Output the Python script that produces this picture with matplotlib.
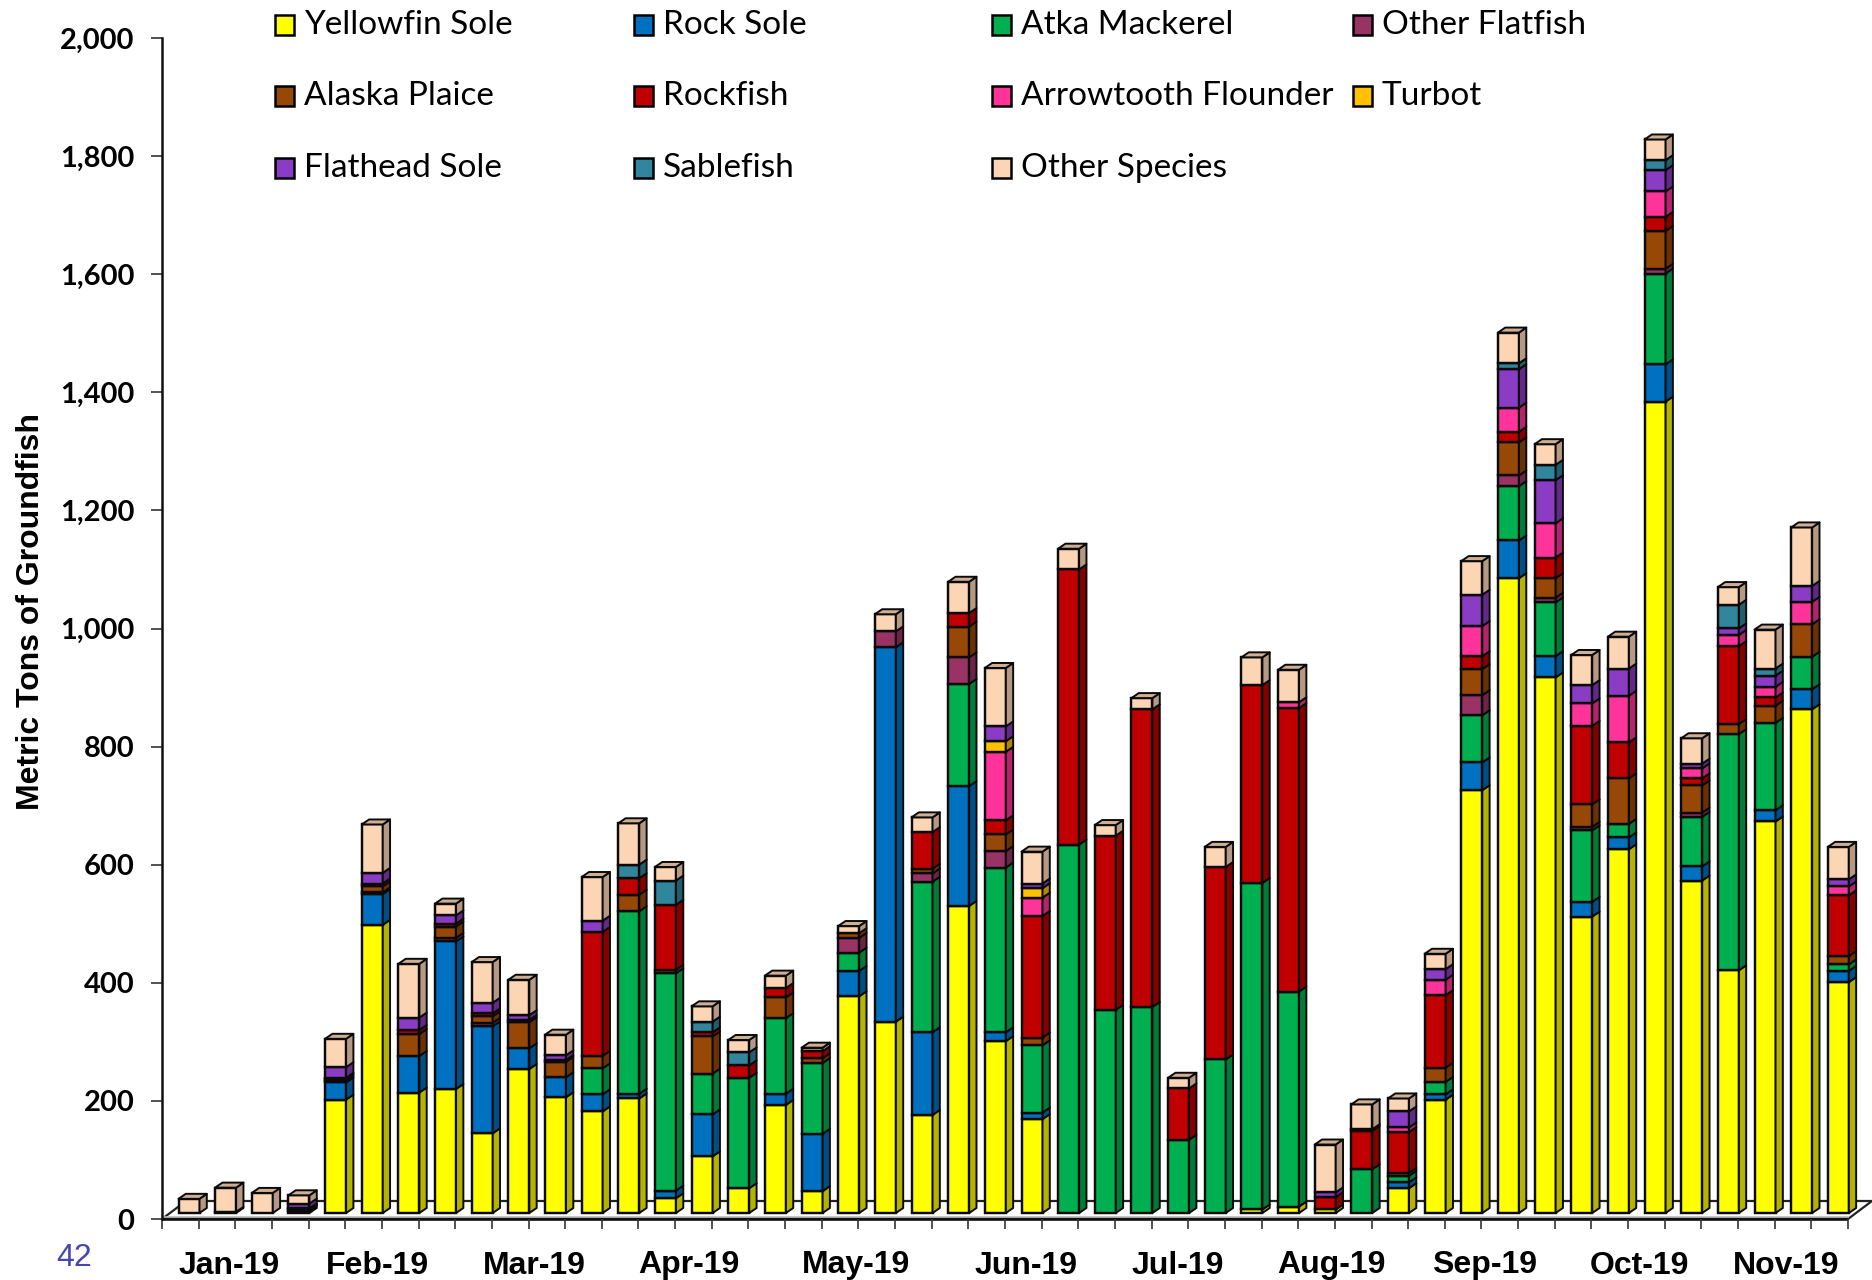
import matplotlib
matplotlib.use("Agg")
import matplotlib.pyplot as plt
from matplotlib.patches import Polygon, Rectangle
from matplotlib.colors import to_rgb
import numpy as np

W, H = 1872, 1280
species = ["Yellowfin Sole", "Rock Sole", "Atka Mackerel", "Other Flatfish", "Alaska Plaice", "Rockfish",
           "Arrowtooth Flounder", "Turbot", "Flathead Sole", "Sablefish", "Other Species"]
colors = ["#FFFF00", "#0070C0", "#00B050", "#993366", "#974806", "#C00000",
          "#FF3399", "#FFC000", "#8A3CC4", "#31859C", "#FCD5B5"]

yellowfin = [0,2,0,0,192,488,204,210,135,244, 196,172,194,25,96,42,183,37,367,324,
             166,520,291,159,0,0,0,0,0,6, 11,6,0,42,192,716,1075,907,502,616, 1374,563,411,663,853,391]
rock_sole = [0,0,0,0,29,52,62,250,181,35, 34,29,8,13,71,0,19,97,43,634,
             140,203,15,11,0,0,0,0,0,0, 0,0,0,10,9,47,64,36,25,20, 63,24,0,19,34,19]
atka = [0,0,0,0,0,0,0,0,0,0, 0,44,309,368,69,187,128,120,31,0,
        255,173,279,114,624,344,349,124,260,553, 364,0,74,11,21,80,92,91,121,23, 154,84,400,148,55,11]
other_flat = [0,0,0,4,3,3,0,6,6,0, 0,0,0,0,0,0,0,0,25,27,
              14,45,28,0,0,0,0,0,0,0, 0,0,0,0,0,34,18,8,6,0, 8,7,0,0,0,0]
plaice = [0,0,0,2,3,10,37,19,11,44, 26,21,28,6,63,0,35,8,8,0,
          8,52,28,13,0,0,0,0,0,0, 0,0,0,5,24,44,56,33,38,77, 64,46,17,29,55,14]
rockfish = [0,0,0,2,2,5,7,5,5,4, 3,210,28,110,7,21,16,12,0,0,
            62,23,24,206,466,295,504,87,326,335, 480,21,65,69,123,22,18,35,133,61, 24,12,132,14,0,103]
arrowtooth = [0,0,0,0,0,0,0,0,0,0, 0,0,0,0,0,0,0,0,0,0,
              0,0,116,31,0,0,0,0,0,0, 10,0,0,8,26,51,41,58,38,79, 43,17,19,18,38,15]
turbot = [0,0,0,0,0,0,0,0,0,0, 0,0,0,0,0,0,0,0,0,0,
          0,0,18,16,0,0,0,0,0,0, 0,0,0,0,0,0,0,0,0,0, 0,0,0,0,0,0]
flathead = [0,0,0,8,18,18,21,14,18,8, 8,19,0,0,0,0,0,0,0,0,
            0,0,25,8,0,0,0,0,0,0, 0,8,3,27,18,53,65,73,31,46, 36,8,11,19,27,12]
sablefish = [0,0,0,0,0,0,0,0,0,0, 0,0,23,41,18,22,0,0,0,0,
             0,0,0,0,0,0,0,0,0,0, 0,0,0,0,0,0,10,26,0,0, 17,0,40,12,0,0]
other_species = [24,41,34,14,48,82,91,20,69,60, 35,74,70,23,26,21,21,6,12,29,
                 25,53,99,54,35,18,19,18,34,47, 55,81,42,22,26,57,52,35,51,54, 35,43,30,66,99,55]
series = [yellowfin, rock_sole, atka, other_flat, plaice, rockfish, arrowtooth, turbot, flathead, sablefish, other_species]

months = ["Jan-19","Feb-19","Mar-19","Apr-19","May-19","Jun-19","Jul-19","Aug-19","Sep-19","Oct-19","Nov-19"]
month_centers = [1.83,5.87,10.15,14.38,18.94,23.58,27.7,31.9,36.07,40.3,44.3]
yticks = list(range(0, 2001, 200))

fig = plt.figure(figsize=(W/100, H/100), dpi=100, facecolor="white")
L, R, T, B = 162, 1848, 38, 1219
ax = fig.add_axes([L/W, 1-B/H, (R-L)/W, (B-T)/H])
ax.set_xlim(0, 46); ax.set_ylim(0, 2000)
ax.patch.set_alpha(0)
for s in ["top", "right", "bottom"]:
    ax.spines[s].set_visible(False)
ax.spines["left"].set_linewidth(1.8)
ax.spines["left"].set_color("#111111")

px_x = 46/(R-L); px_y = 2000/(B-T)
# floor / back wall
fdx, fdy = 24*px_x, 18*px_y
ax.add_patch(Polygon([(0,0),(fdx,fdy),(46+fdx,fdy),(46,0)], closed=True, fc="white", ec="#222222", lw=1.6, clip_on=False, zorder=1))
ax.plot([0,46],[0,0],color="#111111",lw=2.6,clip_on=False,zorder=1.5,solid_capstyle="butt")
ax.plot([0,46],[3.8,3.8],color="#bbbbbb",lw=1.2,clip_on=False,zorder=1.5)

floor = 6*px_y
bw, off = 21*px_x, 16.5*px_x
dx, dy = 7.3*px_x, 5*px_y
lw = 1.75
def shade(c, f):
    return tuple(v*f for v in to_rgb(c))

vals = np.array(series, dtype=float)
for i in range(vals.shape[1]):
    x0 = i + off
    bottom = floor
    z = 2 + i*0.01
    for k in range(vals.shape[0]):
        v = vals[k, i]
        if v <= 0:
            continue
        top = bottom + v
        ax.bar(x0, v, width=bw, bottom=bottom, align="edge", color=colors[k], edgecolor="#0a0a0a", linewidth=lw, zorder=z, clip_on=False)
        ax.add_patch(Polygon([(x0+bw,bottom),(x0+bw+dx,bottom+dy),(x0+bw+dx,top+dy),(x0+bw,top)], closed=True,
                             fc=shade(colors[k],0.7 if k!=10 else 0.72), ec="#0a0a0a", lw=lw*0.8, zorder=z, clip_on=False, joinstyle="round"))
        bottom = top
        last = k
    ax.add_patch(Polygon([(x0,bottom),(x0+dx,bottom+dy),(x0+bw+dx,bottom+dy),(x0+bw,bottom)], closed=True,
                         fc=shade(colors[last],0.82), ec="#0a0a0a", lw=lw*0.8, zorder=z, clip_on=False, joinstyle="round"))

ax.set_yticks(yticks)
ax.set_yticklabels([f"{v:,}" for v in yticks], fontfamily="Lato", fontweight="bold", fontsize=21, color="black")
ax.tick_params(axis="y", length=8, width=1.2, color="#333333", pad=12)
ax.set_xticks(range(47))
ax.set_xticklabels([])
ax.tick_params(axis="x", length=7, width=1.2, color="#333333")

for m, c in zip(months, month_centers):
    ax.annotate(m, xy=(c, 0), xycoords="data", xytext=(0, -46.5*0.72), textcoords="offset points",
                ha="center", va="center", fontfamily="Liberation Sans", fontweight="bold", fontsize=23, color="black", annotation_clip=False)

fig.text(31/W, 1-612/H, "Metric Tons of Groundfish", rotation=90, ha="center", va="center",
         fontfamily="Liberation Sans", fontweight="bold", fontsize=23, color="black")
fig.text(74/W, 1-1258/H, "42", ha="center", va="center", fontfamily="Liberation Sans", fontsize=23, color="#4547B0")

# legend, column by column
leg_x = [275, 634, 992, 1353]
leg_y = [25, 96, 168]
for idx, (name, col) in enumerate(zip(species, colors)):
    order = [0, 4, 8, 1, 5, 9, 2, 6, 10, 3, 7]
    pos = order.index(idx)
    cx, cy = leg_x[pos//3], leg_y[pos%3]
    fig.add_artist(Rectangle((cx/W, 1-(cy+9.5)/H), 19/W, 19/H, transform=fig.transFigure, fc=col, ec="black", lw=1.8))
    fig.text((cx+29)/W, 1-(cy)/H, name, ha="left", va="center", fontfamily="Lato", fontsize=24, color="black")

fig.savefig("out.png", dpi=100, facecolor="white")
